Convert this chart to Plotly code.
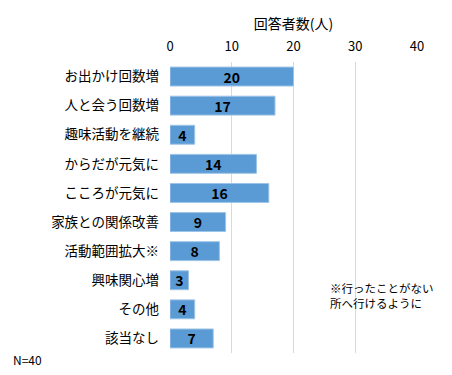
import plotly.graph_objects as go

categories = ["お出かけ回数増", "人と会う回数増", "趣味活動を継続", "からだが元気に", "こころが元気に",
              "家族との関係改善", "活動範囲拡大※", "興味関心増", "その他", "該当なし"]
values = [20, 17, 4, 14, 16, 9, 8, 3, 4, 7]
tick_vals = [0, 10, 20, 30, 40]

FONT = "Noto Sans CJK JP"

fig = go.Figure(go.Bar(
    y=categories, x=values, orientation="h",
    marker=dict(color="#5B9BD5", line=dict(color="#9DC3E6", width=1)),
    width=0.65,
    text=[str(v) for v in values], textposition="inside", insidetextanchor="middle",
    textangle=0, constraintext="none",
    textfont=dict(family=FONT, size=14, color="#000000", weight="bold"),
))

# page body has an 8px default margin, so the figure is sized/offset to compensate
fig.update_layout(
    width=444, height=367,
    margin=dict(l=162, r=35, t=54, b=22),
    paper_bgcolor="white", plot_bgcolor="white",
    font=dict(family=FONT, size=13, color="#000000"),
    showlegend=False,
    xaxis=dict(side="top", range=[0, 40], tickvals=tick_vals, showgrid=True, gridcolor="#D9D9D9",
               gridwidth=1, zeroline=False, showline=False, ticks="", tickfont=dict(size=13),
               automargin=False, ticklabelstandoff=7,
               title=dict(text="回答者数(人)", font=dict(size=14), standoff=3)),
    yaxis=dict(autorange="reversed", showgrid=False, zeroline=False, showline=False, ticks="",
               automargin=False, ticklabelstandoff=10, tickfont=dict(size=13.5)),
    annotations=[
        dict(text="※行ったことがない<br>所へ行けるように", xref="paper", yref="paper",
             x=0.64, y=0.196, xanchor="left", yanchor="middle", showarrow=False, align="left",
             font=dict(size=11.5)),
        dict(text="N=40", xref="paper", yref="paper", x=-0.644, y=-0.024, xanchor="left",
             yanchor="middle", showarrow=False, font=dict(size=12)),
    ],
)

fig.write_html("out.html")
